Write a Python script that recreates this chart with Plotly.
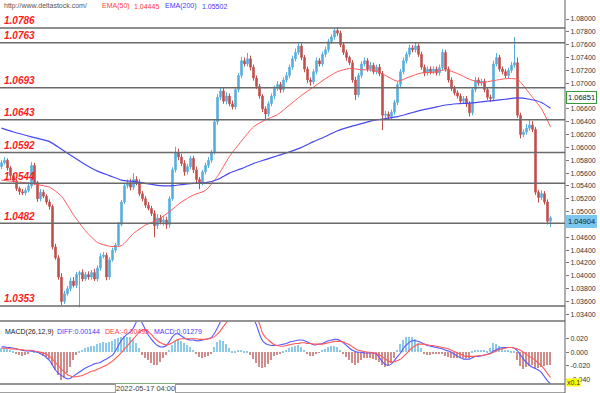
import plotly.graph_objects as go

# ---------------- data ----------------
N = 184
bar_index = list(range(N))

close = [
    1.0576, 1.0580, 1.0568, 1.0556, 1.0548, 1.0536, 1.0531, 1.0529, 1.0533, 1.0540,
    1.0572, 1.0545, 1.0520, 1.0530, 1.0524, 1.0515, 1.0508, 1.0445, 1.0428, 1.0398,
    1.0360, 1.0372, 1.0380, 1.0392, 1.0385, 1.0402, 1.0405, 1.0395, 1.0402, 1.0398,
    1.0405, 1.0395, 1.0412, 1.0430, 1.0432, 1.0398, 1.0425, 1.0440, 1.0448, 1.0480,
    1.0515, 1.0540, 1.0545, 1.0538, 1.0550, 1.0545, 1.0528, 1.0520, 1.0510, 1.0505,
    1.0497, 1.0478, 1.0490, 1.0484, 1.0487, 1.0480, 1.0520, 1.0565, 1.0592, 1.0585,
    1.0575, 1.0562, 1.0570, 1.0583, 1.0565, 1.0550, 1.0545, 1.0562, 1.0572, 1.0580,
    1.0592, 1.0640, 1.0678, 1.0688, 1.0672, 1.0680, 1.0668, 1.0663, 1.0690, 1.0712,
    1.0735, 1.0730, 1.0738, 1.0725, 1.0708, 1.0695, 1.0680, 1.0660, 1.0652, 1.0668,
    1.0680, 1.0692, 1.0698, 1.0690, 1.0705, 1.0712, 1.0725, 1.0738, 1.0748, 1.0758,
    1.0740, 1.0722, 1.0705, 1.0702, 1.0718, 1.0735, 1.0730, 1.0745, 1.0752, 1.0765,
    1.0772, 1.0782, 1.0778, 1.0760, 1.0748, 1.0740, 1.0732, 1.0705, 1.0682, 1.0712,
    1.0730, 1.0735, 1.0722, 1.0728, 1.0718, 1.0725, 1.0715, 1.0650, 1.0652, 1.0648,
    1.0655, 1.0670, 1.0698, 1.0718, 1.0735, 1.0745, 1.0755, 1.0752, 1.0758, 1.0745,
    1.0725, 1.0716, 1.0722, 1.0718, 1.0722, 1.0716, 1.0724, 1.0748, 1.0722, 1.0705,
    1.0692, 1.0685, 1.0680, 1.0672, 1.0676, 1.0668, 1.0654, 1.0690, 1.0705, 1.0700,
    1.0703, 1.0690, 1.0678, 1.0676, 1.0730, 1.0740, 1.0722, 1.0718, 1.0712, 1.0720,
    1.0728, 1.0732, 1.0650, 1.0620, 1.0624, 1.0630, 1.0635, 1.0628, 1.0530, 1.0522,
    1.0528, 1.0515, 1.0485, 1.04904,
]
first_open = 1.0570

wick_up_pips = [
    4, 5, 3, 3, 4, 3, 3, 4, 4, 6,
    5, 4, 3, 5, 4, 3, 4, 3, 5, 4,
    6, 5, 4, 5, 6, 4, 3, 5, 4, 5,
    4, 6, 4, 5, 5, 4, 4, 4, 3, 4,
    3, 4, 5, 6, 10, 5, 5, 4, 4, 5,
    4, 5, 6, 5, 6, 5, 4, 4, 9, 6,
    5, 5, 4, 4, 4, 5, 4, 3, 4, 5,
    4, 4, 5, 6, 5, 6, 4, 5, 4, 4,
    6, 5, 9, 5, 4, 4, 4, 3, 4, 4,
    4, 4, 5, 4, 4, 5, 4, 5, 6, 4,
    5, 4, 4, 4, 4, 5, 4, 4, 5, 4,
    4, 3, 5, 4, 4, 4, 3, 4, 5, 4,
    4, 5, 4, 5, 4, 4, 5, 4, 5, 4,
    4, 4, 4, 4, 5, 4, 5, 4, 5, 4,
    4, 4, 4, 4, 4, 4, 5, 5, 4, 4,
    4, 4, 4, 4, 4, 4, 4, 4, 5, 4,
    4, 4, 4, 4, 5, 7, 4, 4, 4, 4,
    5, 40, 8, 4, 4, 6, 8, 6, 4, 4,
    5, 4, 4, 3,
]
wick_dn_pips = [
    4, 3, 4, 4, 3, 4, 5, 3, 4, 3,
    4, 3, 5, 4, 3, 4, 5, 4, 3, 4,
    6, 4, 3, 4, 3, 4, 51, 4, 3, 4,
    4, 3, 4, 4, 3, 5, 4, 3, 4, 3,
    3, 3, 4, 5, 4, 4, 4, 4, 4, 3,
    4, 18, 5, 4, 6, 7, 5, 3, 4, 5,
    4, 6, 4, 4, 5, 6, 10, 4, 4, 4,
    4, 3, 5, 4, 4, 5, 4, 4, 4, 4,
    4, 4, 4, 5, 4, 4, 4, 5, 9, 4,
    4, 5, 4, 5, 4, 4, 4, 4, 4, 4,
    4, 5, 5, 6, 4, 4, 4, 4, 4, 4,
    4, 4, 4, 4, 4, 5, 4, 4, 8, 4,
    4, 4, 4, 4, 4, 4, 4, 23, 4, 5,
    4, 4, 4, 4, 4, 4, 4, 4, 4, 4,
    4, 5, 4, 4, 4, 4, 4, 4, 4, 4,
    4, 4, 4, 4, 4, 5, 6, 4, 4, 4,
    4, 4, 4, 5, 4, 4, 4, 4, 4, 4,
    4, 4, 4, 6, 4, 4, 4, 4, 4, 8,
    4, 4, 5, 9,
]

ema_index = list(range(0, 184, 4)) + [183]
ema50 = [
    1.0549, 1.0547, 1.0545, 1.0542, 1.0538, 1.0524, 1.0495, 1.0470, 1.0452, 1.0446,
    1.0447, 1.0466, 1.0479, 1.0487, 1.0500, 1.0515, 1.0526, 1.0533, 1.0555, 1.0586,
    1.0610, 1.0632, 1.0643, 1.0651, 1.0666, 1.0681, 1.0694, 1.0707, 1.0718, 1.0723,
    1.0721, 1.0720, 1.0712, 1.0703, 1.0710, 1.0716, 1.0717, 1.0721, 1.0715, 1.0706,
    1.0701, 1.0704, 1.0707, 1.0706, 1.0684, 1.0660, 1.0632,
]
ema200 = [
    1.0630, 1.0624, 1.0619, 1.0614, 1.0609, 1.0597, 1.0585, 1.0573, 1.0563, 1.0556,
    1.0549, 1.0547, 1.0544, 1.0541, 1.0540, 1.0542, 1.0544, 1.0545, 1.0550, 1.0560,
    1.0567, 1.0575, 1.0581, 1.0587, 1.0593, 1.0600, 1.0609, 1.0617, 1.0626, 1.0632,
    1.0637, 1.0642, 1.0645, 1.0648, 1.0653, 1.0658, 1.0662, 1.0666, 1.0668, 1.0669,
    1.0671, 1.0673, 1.0675, 1.0677, 1.0675, 1.0670, 1.0661,
]

macd_hist = [
    0.006, 0.007, 0.005, 0.004, 0.002, -0.002, -0.004, -0.005, -0.004, -0.002,
    0.003, 0.002, 0.001, -0.003, -0.005, -0.007, -0.010, -0.018, -0.026, -0.034,
    -0.041, -0.038, -0.030, -0.022, -0.012, -0.004, 0.002, 0.004, 0.006, 0.008,
    0.009, 0.010, 0.012, 0.014, 0.015, 0.013, 0.015, 0.017, 0.019, 0.021,
    0.023, 0.024, 0.023, 0.022, 0.020, 0.014, 0.006, -0.004, -0.008, -0.012,
    -0.016, -0.019, -0.018, -0.014, -0.009, -0.004, 0.004, 0.011, 0.016, 0.018,
    0.017, 0.014, 0.011, 0.008, 0.003, -0.003, -0.007, -0.008, -0.007, -0.005,
    -0.002, 0.008, 0.015, 0.018, 0.016, 0.012, 0.006, 0.002, 0.002, 0.003,
    0.003, 0.002, 0.002, -0.004, -0.010, -0.016, -0.021, -0.023, -0.022, -0.017,
    -0.011, -0.006, -0.004, -0.002, 0.002, 0.004, 0.006, 0.008, 0.010, 0.011,
    0.008, 0.004, -0.002, -0.005, -0.005, -0.003, -0.001, 0.003, 0.005, 0.008,
    0.010, 0.010, 0.008, 0.004, -0.003, -0.007, -0.012, -0.016, -0.019, -0.015,
    -0.011, -0.009, -0.008, -0.009, -0.010, -0.011, -0.014, -0.019, -0.021, -0.020,
    -0.016, -0.008, 0.004, 0.012, 0.018, 0.022, 0.023, 0.022, 0.019, 0.013,
    0.006, -0.002, -0.004, -0.004, -0.003, -0.003, -0.003, -0.002, -0.005, -0.007,
    -0.008, -0.009, -0.009, -0.009, -0.008, -0.008, -0.009, 0.001, 0.003, 0.004,
    0.004, 0.003, 0.001, 0.006, 0.013, 0.012, 0.009, 0.006, 0.004, 0.003,
    0.002, 0.002, -0.012, -0.020, -0.024, -0.022, -0.020, -0.018, -0.024, -0.023,
    -0.021, -0.020, -0.019, -0.018,
]
macd_diff = [
    0.008, 0.008, 0.007, 0.007, 0.006, 0.005, 0.004, 0.003, 0.002, 0.002,
    0.002, 0.001, 0.000, -0.002, -0.004, -0.008, -0.012, -0.019, -0.026, -0.031,
    -0.034, -0.037, -0.039, -0.038, -0.035, -0.032, -0.029, -0.026, -0.023, -0.021,
    -0.019, -0.017, -0.016, -0.015, -0.012, -0.010, -0.007, -0.004, 0.002, 0.010,
    0.018, 0.023, 0.027, 0.030, 0.036, 0.045, 0.050, 0.042, 0.033, 0.025,
    0.019, 0.014, 0.010, 0.008, 0.008, 0.010, 0.016, 0.023, 0.027, 0.027,
    0.024, 0.021, 0.019, 0.018, 0.018, 0.017, 0.017, 0.018, 0.019, 0.020,
    0.022, 0.028, 0.036, 0.045, 0.052, 0.056, 0.058, 0.058, 0.060, 0.062,
    0.064, 0.064, 0.062, 0.058, 0.050, 0.040, 0.027, 0.017, 0.013, 0.011,
    0.010, 0.010, 0.010, 0.011, 0.012, 0.013, 0.015, 0.016, 0.017, 0.018,
    0.018, 0.017, 0.015, 0.013, 0.011, 0.011, 0.012, 0.013, 0.015, 0.017,
    0.018, 0.019, 0.019, 0.017, 0.014, 0.010, 0.006, 0.003, 0.001, 0.000,
    0.000, -0.001, -0.001, -0.001, -0.001, -0.003, -0.008, -0.014, -0.018, -0.019,
    -0.017, -0.012, -0.006, -0.001, 0.006, 0.011, 0.015, 0.017, 0.017, 0.016,
    0.014, 0.012, 0.010, 0.009, 0.008, 0.007, 0.006, 0.005, 0.003, 0.002,
    0.000, -0.003, -0.006, -0.008, -0.010, -0.010, -0.010, -0.008, -0.006, -0.006,
    -0.005, -0.004, -0.003, -0.001, 0.002, 0.004, 0.006, 0.007, 0.007, 0.007,
    0.007, 0.006, 0.002, -0.004, -0.010, -0.015, -0.019, -0.022, -0.024, -0.026,
    -0.030, -0.036, -0.042, -0.046,
]
macd_dea = [
    0.006, 0.006, 0.006, 0.005, 0.005, 0.005, 0.004, 0.004, 0.003, 0.003,
    0.003, 0.002, 0.001, 0.000, -0.001, -0.003, -0.006, -0.010, -0.015, -0.020,
    -0.025, -0.029, -0.033, -0.035, -0.036, -0.036, -0.035, -0.034, -0.032, -0.030,
    -0.028, -0.027, -0.025, -0.023, -0.021, -0.019, -0.016, -0.013, -0.009, -0.005,
    0.000, 0.005, 0.010, 0.015, 0.020, 0.025, 0.030, 0.033, 0.033, 0.030,
    0.026, 0.021, 0.017, 0.014, 0.012, 0.011, 0.012, 0.014, 0.017, 0.019,
    0.020, 0.020, 0.020, 0.020, 0.020, 0.020, 0.019, 0.019, 0.019, 0.020,
    0.021, 0.023, 0.027, 0.032, 0.038, 0.044, 0.049, 0.052, 0.055, 0.057,
    0.058, 0.059, 0.059, 0.058, 0.055, 0.050, 0.042, 0.028, 0.022, 0.018,
    0.014, 0.011, 0.010, 0.009, 0.009, 0.010, 0.011, 0.012, 0.013, 0.013,
    0.014, 0.014, 0.013, 0.013, 0.012, 0.012, 0.012, 0.012, 0.013, 0.014,
    0.015, 0.016, 0.016, 0.016, 0.015, 0.013, 0.011, 0.008, 0.005, 0.003,
    0.002, 0.001, 0.000, 0.000, -0.001, -0.002, -0.004, -0.007, -0.010, -0.013,
    -0.014, -0.014, -0.012, -0.010, -0.006, -0.002, 0.003, 0.007, 0.010, 0.012,
    0.012, 0.012, 0.011, 0.010, 0.010, 0.009, 0.008, 0.007, 0.006, 0.005,
    0.003, 0.001, -0.001, -0.003, -0.005, -0.006, -0.006, -0.006, -0.006, -0.005,
    -0.005, -0.004, -0.003, -0.002, 0.000, 0.002, 0.004, 0.005, 0.006, 0.007,
    0.007, 0.006, 0.005, 0.003, 0.000, -0.003, -0.006, -0.009, -0.012, -0.016,
    -0.020, -0.025, -0.031, -0.037,
]

levels = [1.0786, 1.0763, 1.0693, 1.0643, 1.0592, 1.0544, 1.0482, 1.0353]
level_labels = ["1.0786", "1.0763", "1.0693", "1.0643", "1.0592", "1.0544", "1.0482", "1.0353"]
price_ticks = [1.080, 1.078, 1.076, 1.074, 1.072, 1.070, 1.068, 1.066, 1.064, 1.062,
               1.060, 1.058, 1.056, 1.054, 1.052, 1.050, 1.048, 1.046, 1.044, 1.042,
               1.040, 1.038, 1.036, 1.034]
# 1.06800 and 1.04800 are hidden behind the price boxes in the reference
price_tick_text = ["1.08000", "1.07800", "1.07600", "1.07400", "1.07200", "1.07000", "",
                   "1.06600", "1.06400", "1.06200", "1.06000", "1.05800", "1.05600", "1.05400",
                   "1.05200", "1.05000", "", "1.04600", "1.04400", "1.04200", "1.04000",
                   "1.03800", "1.03600", "1.03400"]
macd_ticks = [0.02, 0.0, -0.02, -0.04]
macd_tick_text = ["0.020", "0.000", "-0.020", "-0.040"]

for arr in (close, wick_up_pips, wick_dn_pips, macd_hist, macd_diff, macd_dea):
    assert len(arr) == N, len(arr)
assert len(ema50) == len(ema_index) and len(ema200) == len(ema_index)

open_ = [first_open] + close[:-1]
high = [max(o, c) + w * 0.0001 for o, c, w in zip(open_, close, wick_up_pips)]
low = [min(o, c) - w * 0.0001 for o, c, w in zip(open_, close, wick_dn_pips)]

# ---------------- style ----------------
W, H = 600, 393
PLOT_R = 565
UP = "#58AEDD"
DN = "#C0504D"
FONT = "Liberation Sans"


def px(x):
    return x / W


def py(y):
    return 1 - y / H


x_range = [-0.5, (PLOT_R - 1.5) / 3.0]

fig = go.Figure()
fig.add_trace(go.Candlestick(
    x=bar_index, open=open_, high=high, low=low, close=close,
    increasing=dict(line=dict(color=UP, width=1), fillcolor=UP),
    decreasing=dict(line=dict(color=DN, width=1), fillcolor=DN),
    whiskerwidth=0, showlegend=False, hoverinfo="skip", xaxis="x", yaxis="y"))
fig.add_trace(go.Scatter(x=ema_index, y=ema50, mode="lines",
                         line=dict(color="#FF5A5A", width=1, shape="spline", smoothing=0.6),
                         showlegend=False, hoverinfo="skip", xaxis="x", yaxis="y"))
fig.add_trace(go.Scatter(x=ema_index, y=ema200, mode="lines",
                         line=dict(color="#4848F0", width=1.2, shape="spline", smoothing=0.6),
                         showlegend=False, hoverinfo="skip", xaxis="x", yaxis="y"))

fig.add_trace(go.Bar(x=bar_index, y=macd_hist, width=0.4,
                     marker=dict(color=["#8CCAE8" if v >= 0 else "#CF8E8C" for v in macd_hist],
                                 line=dict(width=0)),
                     showlegend=False, hoverinfo="skip", xaxis="x2", yaxis="y2"))
fig.add_trace(go.Scatter(x=bar_index, y=macd_diff, mode="lines",
                         line=dict(color="#5A5AFF", width=1.1, shape="spline", smoothing=0.5),
                         showlegend=False, hoverinfo="skip", xaxis="x2", yaxis="y2"))
fig.add_trace(go.Scatter(x=bar_index, y=macd_dea, mode="lines",
                         line=dict(color="#FF5A5A", width=1.1, shape="spline", smoothing=0.5),
                         showlegend=False, hoverinfo="skip", xaxis="x2", yaxis="y2"))

shapes = []
for lv in levels:
    shapes.append(dict(type="line", xref="paper", yref="y", x0=0, x1=px(PLOT_R), y0=lv, y1=lv,
                       line=dict(color="#6A6A6A", width=1.5), layer="above"))
for yy in (321, 384):
    shapes.append(dict(type="line", xref="paper", yref="paper", x0=0, x1=px(PLOT_R),
                       y0=py(yy), y1=py(yy), line=dict(color="#707070", width=1.5)))
shapes.append(dict(type="line", xref="paper", yref="paper", x0=0, x1=px(PLOT_R),
                   y0=py(392.5), y1=py(392.5), line=dict(color="#A0A0A0", width=1)))
shapes.append(dict(type="line", xref="paper", yref="paper", x0=px(PLOT_R), x1=px(PLOT_R),
                   y0=0, y1=1, line=dict(color="#606060", width=1)))

ann = []
for lv, txt in zip(levels, level_labels):
    ann.append(dict(xref="paper", yref="y", x=px(2), y=lv, yshift=7, xanchor="left", yanchor="middle",
                    text="<b><i>" + txt + "</i></b>", showarrow=False,
                    font=dict(family=FONT, size=10, color="#FF1A1A")))

header = [(2, "http://www.deltastock.com/", "#555555"), (100, "EMA(50)", "#FF3B3B"),
          (132, "1.04445", "#FF3B3B"), (163, "EMA(200)", "#3B3BFF"), (200, "1.05502", "#3B3BFF")]
for x0, txt, col in header:
    ann.append(dict(xref="paper", yref="paper", x=px(x0), y=py(6), xanchor="left", yanchor="middle",
                    text=txt, showarrow=False, font=dict(family=FONT, size=7, color=col)))

macd_title = [(3, "MACD(26,12,9)", "#222222"), (55, "DIFF:0.00144", "#4040FF"),
              (103, "DEA:-0.00495", "#FF3B3B"), (152, "MACD:0.01279", "#4040FF")]
for x0, txt, col in macd_title:
    ann.append(dict(xref="paper", yref="paper", x=px(x0), y=py(331.5), xanchor="left", yanchor="middle",
                    text=txt, showarrow=False, font=dict(family=FONT, size=7, color=col)))

ann.append(dict(xref="paper", yref="paper", x=px(566), y=py(97), xanchor="left", yanchor="middle",
                text="1.06851", showarrow=False, bgcolor="#FFFFFF", bordercolor="#3A9A3A",
                borderwidth=1, borderpad=1, font=dict(family=FONT, size=7.5, color="#222222")))
ann.append(dict(xref="paper", yref="paper", x=px(566), y=py(221), xanchor="left", yanchor="middle",
                text="1.04904", showarrow=False, bgcolor="#7CC7EF", bordercolor="#7CC7EF",
                borderwidth=1, borderpad=1, font=dict(family=FONT, size=7.5, color="#1A1A1A")))
ann.append(dict(xref="paper", yref="paper", x=px(566), y=py(382), xanchor="left", yanchor="middle",
                text="x0.1", showarrow=False, bgcolor="#FFFF00", borderpad=0,
                font=dict(family=FONT, size=7, color="#333333")))
ann.append(dict(xref="paper", yref="paper", x=px(145), y=py(388.5), xanchor="center", yanchor="middle",
                text="2022-05-17 04:00", showarrow=False, bgcolor="#FFFFFF", bordercolor="#7FB07F",
                borderwidth=1, borderpad=0, font=dict(family=FONT, size=7.5, color="#444444")))

fig.update_layout(
    width=W, height=H, margin=dict(l=0, r=0, t=0, b=0, autoexpand=False),
    paper_bgcolor="white", plot_bgcolor="white", showlegend=False, bargap=0,
    xaxis=dict(domain=[0, px(PLOT_R)], range=x_range, visible=False, anchor="y",
               rangeslider=dict(visible=False), fixedrange=True),
    yaxis=dict(domain=[py(321), 1], range=[1.03296, 1.08296], side="right", anchor="x",
               tickvals=price_ticks, ticktext=price_tick_text, ticks="outside", ticklen=3,
               tickcolor="#777777", tickfont=dict(family=FONT, size=7, color="#333333"),
               showgrid=False, zeroline=False, showline=False, fixedrange=True, automargin=False),
    xaxis2=dict(domain=[0, px(PLOT_R)], range=x_range, visible=False, anchor="y2", fixedrange=True),
    yaxis2=dict(domain=[py(384), py(322)], range=[-0.04662, 0.04456], side="right", anchor="x2",
                tickvals=macd_ticks, ticktext=macd_tick_text, ticks="outside", ticklen=3,
                tickcolor="#777777", tickfont=dict(family=FONT, size=7, color="#333333"),
                showgrid=False, zeroline=False, showline=False, fixedrange=True, automargin=False),
    shapes=shapes, annotations=ann,
)

fig.write_html("out.html", config={"displayModeBar": False},
               post_script="document.body.style.margin='0px';document.body.style.overflow='hidden';")
